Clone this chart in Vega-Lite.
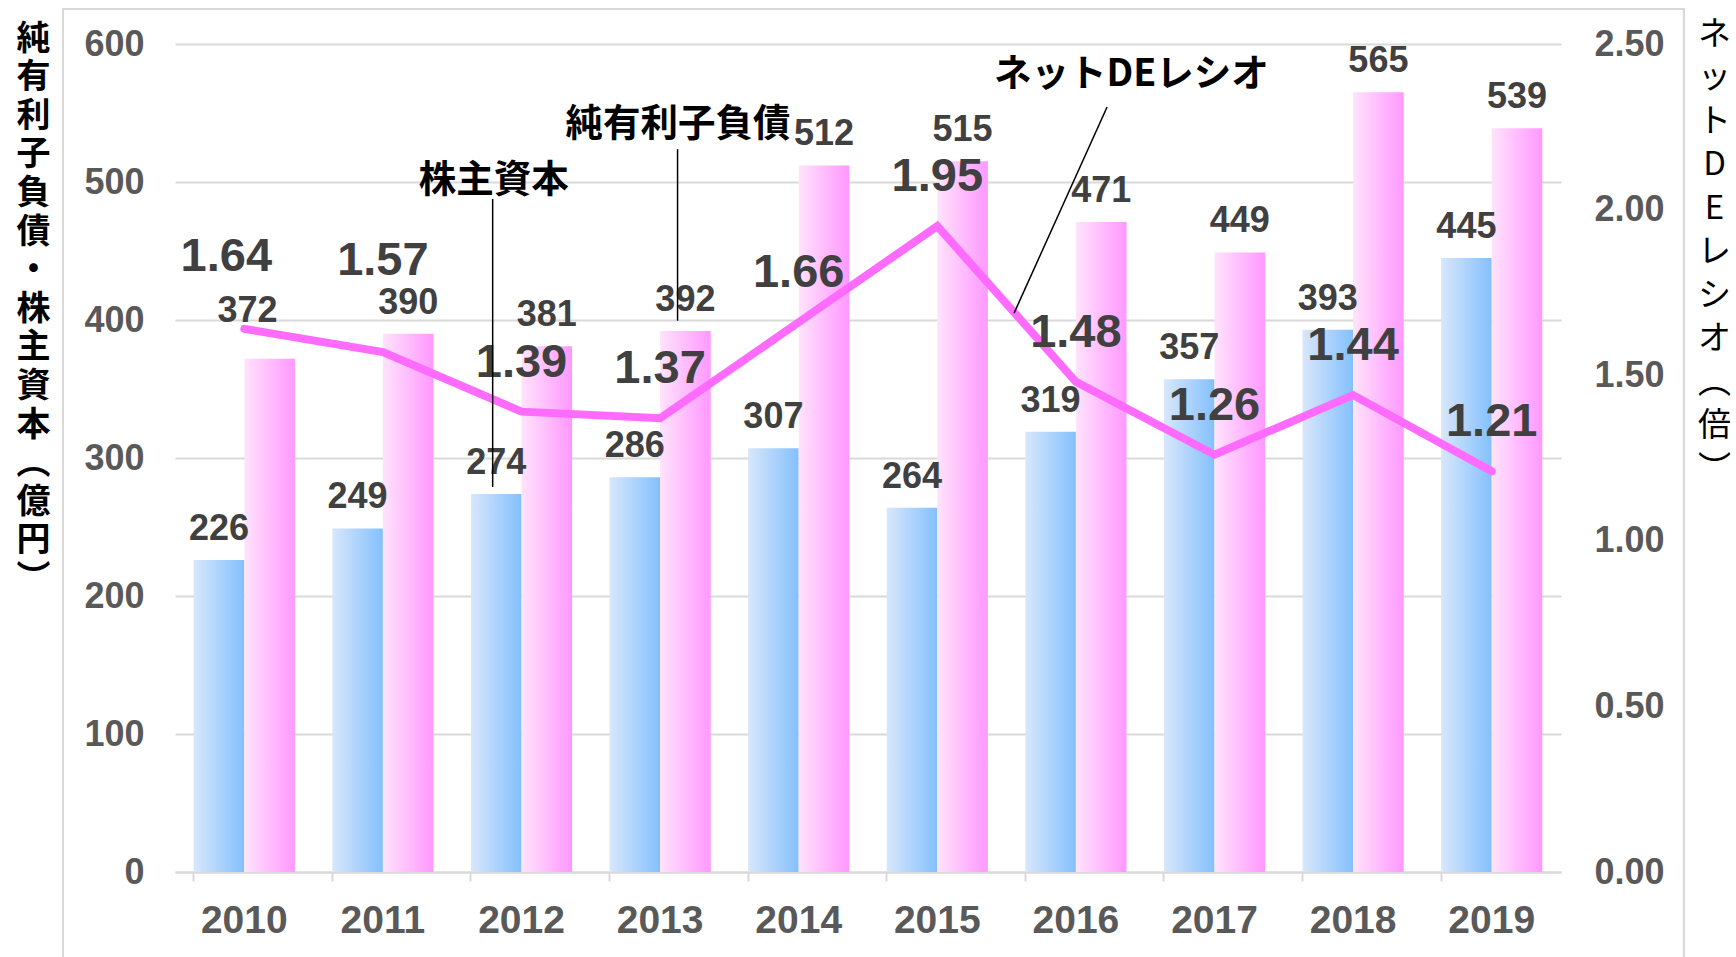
{
  "$schema": "https://vega.github.io/schema/vega-lite/v6.json",
  "autosize": {"type": "none"},
  "width": 1386,
  "height": 828,
  "padding": {"left": 175, "top": 44, "right": 175, "bottom": 85},
  "background": "white",
  "config": {
    "view": {"stroke": null},
    "text": {"font": "Liberation Sans"},
    "axis": {"labelFont": "Liberation Sans", "titleFont": "Noto Sans CJK JP"}
  },
  "data": {"values": [
    {"year": "2010", "equity": 226, "debt": 372, "ratio": 1.64},
    {"year": "2011", "equity": 249, "debt": 390, "ratio": 1.57},
    {"year": "2012", "equity": 274, "debt": 381, "ratio": 1.39},
    {"year": "2013", "equity": 286, "debt": 392, "ratio": 1.37},
    {"year": "2014", "equity": 307, "debt": 512, "ratio": 1.66},
    {"year": "2015", "equity": 264, "debt": 515, "ratio": 1.95},
    {"year": "2016", "equity": 319, "debt": 471, "ratio": 1.48},
    {"year": "2017", "equity": 357, "debt": 449, "ratio": 1.26},
    {"year": "2018", "equity": 393, "debt": 565, "ratio": 1.44},
    {"year": "2019", "equity": 445, "debt": 539, "ratio": 1.21}
  ]},
  "resolve": {"scale": {"x": "independent", "y": "independent"}},
  "layer": [
    {
      "transform": [{"fold": ["equity", "debt"], "as": ["series", "value"]}],
      "encoding": {
        "x": {"field": "year", "type": "nominal", "sort": null,
          "scale": {"paddingInner": 0.27, "paddingOuter": 0.135},
          "axis": {"title": null, "labelAngle": 0, "labelFontSize": 39, "labelFontWeight": "bold", "labelColor": "#595959", "labelPadding": 20, "bandPosition": 0, "tickSize": 9, "tickWidth": 2, "tickColor": "#d9d9d9", "domainColor": "#d9d9d9", "domainWidth": 2, "grid": false}},
        "xOffset": {"field": "series", "type": "nominal", "scale": {"domain": ["equity", "debt"], "paddingInner": 0, "paddingOuter": 0}},
        "y": {"field": "value", "type": "quantitative",
          "scale": {"domain": [0, 600], "nice": false},
          "axis": {"orient": "left", "values": [0, 100, 200, 300, 400, 500, 600], "grid": true, "gridColor": "#d9d9d9", "gridWidth": 2, "domain": false, "ticks": false, "labelFontSize": 36, "labelFontWeight": "bold", "labelColor": "#595959", "labelPadding": 31,
            "title": ["純", "有", "利", "子", "負", "債", "・", "株", "主", "資", "本", "︵", "億", "円", "︶"],
            "titleAngle": 0, "titleFontSize": 34, "titleFontWeight": "bold", "titleColor": "#000000", "titleLineHeight": 38.6, "titleX": -142, "titleY": -22, "titleAlign": "center", "titleBaseline": "top"}}
      },
      "layer": [
        {
          "transform": [{"filter": "datum.series === 'equity'"}],
          "mark": {"type": "bar", "color": {"gradient": "linear", "x1": 0, "y1": 0, "x2": 1, "y2": 0, "stops": [{"offset": 0, "color": "#d8e7fb"}, {"offset": 1, "color": "#84c0fd"}]}}
        },
        {
          "transform": [{"filter": "datum.series === 'debt'"}],
          "mark": {"type": "bar", "color": {"gradient": "linear", "x1": 0, "y1": 0, "x2": 1, "y2": 0, "stops": [{"offset": 0, "color": "#ffe3fb"}, {"offset": 1, "color": "#ff98ff"}]}}
        },
        {
          "transform": [{"filter": "!(datum.year === '2010' && datum.series === 'debt')"}],
          "mark": {"type": "text", "fontSize": 36, "fontWeight": "bold", "color": "#404040", "baseline": "alphabetic", "dy": -20},
          "encoding": {"text": {"field": "value", "type": "quantitative"}}
        },
        {
          "transform": [{"filter": "datum.year === '2010' && datum.series === 'debt'"}],
          "mark": {"type": "text", "fontSize": 36, "fontWeight": "bold", "color": "#404040", "baseline": "alphabetic", "dy": -37, "dx": -22},
          "encoding": {"text": {"field": "value", "type": "quantitative"}}
        }
      ]
    },
    {
      "encoding": {
        "x": {"field": "year", "type": "nominal", "sort": null, "scale": {"paddingInner": 0.27, "paddingOuter": 0.135}, "axis": null},
        "y": {"field": "ratio", "type": "quantitative",
          "scale": {"domain": [0, 2.5], "nice": false},
          "axis": {"orient": "right", "values": [0, 0.5, 1, 1.5, 2, 2.5], "format": ".2f", "grid": false, "domain": false, "ticks": false, "labelFontSize": 36, "labelFontWeight": "bold", "labelColor": "#595959", "labelPadding": 33, "labelAlign": "left",
            "title": ["ネ", "ッ", "ト", "D", "E", "レ", "シ", "オ", "︵", "倍", "︶"],
            "titleAngle": 0, "titleFontSize": 33, "titleFontWeight": "normal", "titleColor": "#000000", "titleLineHeight": 43.5, "titleX": 153, "titleY": -26, "titleAlign": "center", "titleBaseline": "top"}}
      },
      "layer": [
        {"mark": {"type": "line", "color": "#ff6bff", "strokeWidth": 8, "strokeCap": "round", "strokeJoin": "miter"}},
        {
          "transform": [{"filter": "datum.year !== '2010' && datum.year !== '2011'"}],
          "mark": {"type": "text", "fontSize": 47, "fontWeight": "bold", "color": "#404040", "baseline": "middle", "dy": -49},
          "encoding": {"text": {"field": "ratio", "type": "quantitative", "format": ".2f"}}
        },
        {
          "transform": [{"filter": "datum.year === '2010'"}],
          "mark": {"type": "text", "fontSize": 47, "fontWeight": "bold", "color": "#404040", "baseline": "middle", "dy": -72, "dx": -18},
          "encoding": {"text": {"field": "ratio", "type": "quantitative", "format": ".2f"}}
        },
        {
          "transform": [{"filter": "datum.year === '2011'"}],
          "mark": {"type": "text", "fontSize": 47, "fontWeight": "bold", "color": "#404040", "baseline": "middle", "dy": -91},
          "encoding": {"text": {"field": "ratio", "type": "quantitative", "format": ".2f"}}
        }
      ]
    },
    {
      "data": {"values": [
        {"label": "株主資本", "lx": 2.30, "ly": 501, "ax": 2.292, "ay": 487.7, "bx": 2.292, "by": 279},
        {"label": "純有利子負債", "lx": 3.63, "ly": 541.4, "ax": 3.626, "ay": 523.8, "bx": 3.626, "by": 399.5},
        {"label": "ネットDEレシオ", "lx": 6.90, "ly": 577.5, "ax": 6.725, "ay": 554.3, "bx": 6.054, "by": 405}
      ]},
      "layer": [
        {
          "mark": {"type": "rule", "color": "#000000", "strokeWidth": 1.5},
          "encoding": {
            "x": {"field": "ax", "type": "quantitative", "scale": {"domain": [0, 10], "nice": false, "zero": false}, "axis": null},
            "x2": {"field": "bx"},
            "y": {"field": "ay", "type": "quantitative", "scale": {"domain": [0, 600], "nice": false}, "axis": null},
            "y2": {"field": "by"}
          }
        },
        {
          "mark": {"type": "text", "font": "Noto Sans CJK JP", "fontSize": 37.5, "fontWeight": "bold", "color": "#000000", "baseline": "middle", "align": "center"},
          "encoding": {
            "x": {"field": "lx", "type": "quantitative"},
            "y": {"field": "ly", "type": "quantitative"},
            "text": {"field": "label"}
          }
        },
        {
          "mark": {"type": "rect", "fill": null, "stroke": "#d9d9d9", "strokeWidth": 2, "clip": false},
          "encoding": {
            "x": {"datum": -0.808, "type": "quantitative"},
            "x2": {"datum": 10.887},
            "y": {"datum": 625.4, "type": "quantitative"},
            "y2": {"datum": -80}
          }
        }
      ]
    }
  ]
}
